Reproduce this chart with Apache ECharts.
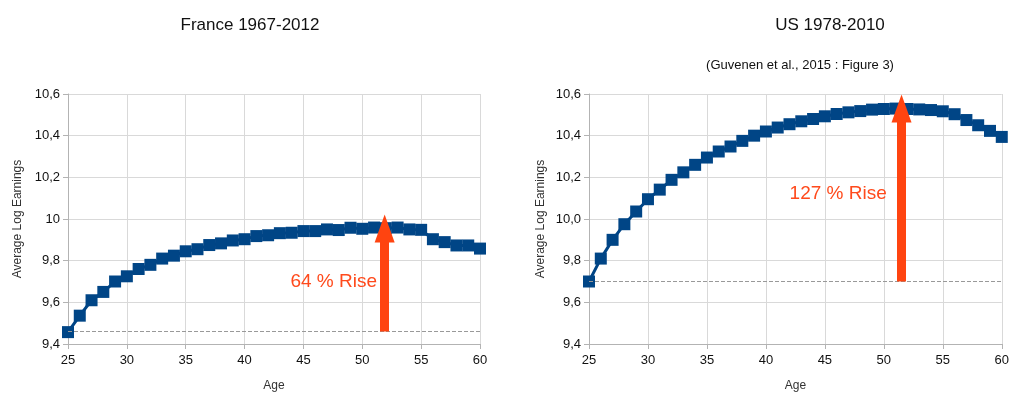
<!DOCTYPE html>
<html>
<head>
<meta charset="utf-8">
<script src="https://cdn.jsdelivr.net/npm/echarts@6/dist/echarts.min.js"></script>
<style>
html, body { margin: 0; padding: 0; background: #fff; }
#chart { width: 1012px; height: 408px; }
</style>
</head>
<body>
<div id="chart"></div>
<script>
// 数据
const ages = [25,26,27,28,29,30,31,32,33,34,35,36,37,38,39,40,41,42,43,44,45,46,47,48,49,50,51,52,53,54,55,56,57,58,59,60];
const france = [9.457,9.536,9.61,9.65,9.70,9.725,9.76,9.78,9.81,9.824,9.845,9.855,9.875,9.883,9.897,9.903,9.918,9.922,9.932,9.934,9.942,9.942,9.95,9.947,9.958,9.953,9.959,9.956,9.959,9.95,9.948,9.903,9.889,9.873,9.873,9.858];
const us = [9.70,9.81,9.90,9.975,10.036,10.095,10.141,10.188,10.224,10.26,10.295,10.324,10.348,10.375,10.40,10.42,10.439,10.455,10.469,10.48,10.493,10.504,10.512,10.518,10.525,10.528,10.53,10.528,10.526,10.523,10.517,10.503,10.475,10.45,10.423,10.394];
const titles = ['France 1967-2012', 'US 1978-2010'];
const subtitle = '(Guvenen et al., 2015 : Figure 3)';
const riseLabels = ['64 % Rise', '127 % Rise'];
// 箭头: [x, 起点y, 终点y]
const arrows = [[51.9, 9.46, 9.955], [51.5, 9.70, 10.53]];
// 文字右端位置
const labelPos = [[51.25, 9.697], [50.25, 10.12]];

const chart = echarts.init(document.getElementById('chart'));
const font = 'Liberation Sans, Arial, sans-serif';

function xAxis(i) {
    return {
        gridIndex: i, type: 'value', min: 25, max: 60, interval: 5,
        name: 'Age', nameLocation: 'middle', nameGap: 36,
        nameTextStyle: { fontFamily: font, fontSize: 12, color: '#333' },
        axisLine: { lineStyle: { color: '#b3b3b3' } },
        axisTick: { show: true, lineStyle: { color: '#b3b3b3' } },
        axisLabel: { fontFamily: font, fontSize: 13, color: '#111', margin: 10 },
        splitLine: { lineStyle: { color: '#d9d9d9' } }
    };
}
function yAxis(i) {
    return {
        gridIndex: i, type: 'value', min: 9.4, max: 10.6, interval: 0.2,
        name: 'Average Log Earnings', nameLocation: 'middle', nameGap: i === 0 ? 44 : 42,
        nameTextStyle: { fontFamily: font, fontSize: 12, color: '#333' },
        axisLine: { show: true, lineStyle: { color: '#b3b3b3' } },
        axisTick: { show: true, lineStyle: { color: '#b3b3b3' } },
        axisLabel: {
            fontFamily: font, fontSize: 13, color: '#111', margin: 8,
            formatter: v => {
                let s = (Math.round(v * 10) / 10).toFixed(1);
                if (i === 0 && s === '10.0') s = '10';
                return s.replace('.', ',');
            }
        },
        splitLine: { lineStyle: { color: '#d9d9d9' } }
    };
}
function series(i, vals) {
    const a = arrows[i];
    return {
        type: 'line', xAxisIndex: i, yAxisIndex: i,
        data: ages.map((x, k) => [x, vals[k]]),
        symbol: 'rect', symbolSize: 12,
        lineStyle: { color: '#004586', width: 3 },
        itemStyle: { color: '#004586' },
        z: 3,
        markLine: {
            silent: true, animation: false, label: { show: false },
            data: [
                [{ coord: [25, a[1]], symbol: 'none', lineStyle: { color: '#999', type: 'dashed', width: 1 } },
                 { coord: [60, a[1]], symbol: 'none' }],
                [{ coord: [a[0], a[1]], symbol: 'none', lineStyle: { color: '#ff4410', type: 'solid', width: 9 } },
                 { coord: [a[0], a[2]], symbol: 'triangle', symbolSize: [20, 28] }]
            ]
        },
        markPoint: {
            silent: true, animation: false, symbol: 'circle', symbolSize: 0,
            data: [{
                coord: labelPos[i],
                label: { show: true, formatter: riseLabels[i], position: 'left', distance: 0,
                         fontFamily: font, fontSize: 19, color: '#ff4a1c' }
            }]
        }
    };
}

chart.setOption({
    animation: false,
    title: [
        { text: titles[0], left: 245, top: 12, textAlign: 'center', textStyle: { fontFamily: font, fontSize: 17, fontWeight: 'normal', color: '#111' } },
        { text: titles[1], left: 825, top: 12, textAlign: 'center', textStyle: { fontFamily: font, fontSize: 17, fontWeight: 'normal', color: '#111' } },
        { text: subtitle, left: 795, top: 54, textAlign: 'center', textStyle: { fontFamily: font, fontSize: 13, fontWeight: 'normal', color: '#111' } }
    ],
    grid: [
        { left: 68, top: 94, width: 412, height: 250 },
        { left: 589, top: 94, width: 413, height: 250 }
    ],
    xAxis: [xAxis(0), xAxis(1)],
    yAxis: [yAxis(0), yAxis(1)],
    series: [series(0, france), series(1, us)]
});
</script>
</body>
</html>
